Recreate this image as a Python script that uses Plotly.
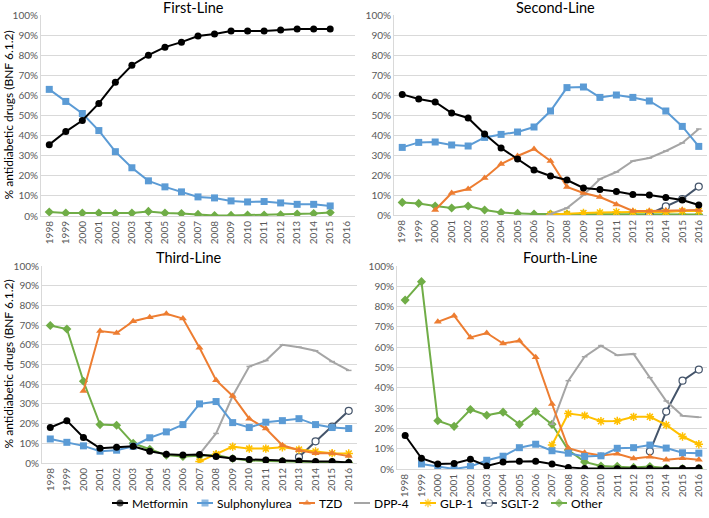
import plotly.graph_objects as go

years = [str(y) for y in range(1998, 2017)]
N = None

# First-Line (1998-2015 data; 2016 empty)
fl_metformin = [35.5, 42, 47.5, 56, 66.5, 75, 80, 84, 86.5, 89.5, 90.5, 92, 92, 92, 92.5, 93, 93, 93, N]
fl_sulph = [63, 57, 51, 42.5, 32, 24, 17.5, 14.5, 12, 9.5, 9, 7.5, 7, 7.2, 6.5, 5.8, 5.8, 5, N]
fl_other = [2, 1.5, 1.5, 1.5, 1.2, 1.5, 2.3, 1.5, 1.2, 0.8, 0.2, 0.3, 0.5, 0.5, 0.6, 1.0, 1.2, 1.7, N]

# Second-Line
sl_metformin = [60.3, 58, 56.5, 51, 48.5, 40.5, 33.5, 28, 22.5, 19.5, 17.5, 13.5, 12.8, 11.7, 10.3, 10, 8.7, 7.5, 5]
sl_sulph = [33.8, 36.3, 36.5, 35, 34.5, 38.8, 40.3, 41.5, 44, 52, 63.7, 64, 58.8, 60, 58.8, 57, 52, 44.3, 34.3]
sl_tzd = [N, N, 2.5, 11, 13, 18.5, 25.5, 29.5, 33, 27, 14, 11, 9, 5.3, 2, 2, 2.2, 2.5, 2.5]
sl_dpp4 = [N, N, N, N, N, N, N, N, N, 0.5, 3.5, 10, 18, 21.5, 27, 28.5, 32, 36, 43]
sl_glp1 = [N, N, N, N, N, N, N, N, N, 0.3, 0.5, 1, 1.3, 1.5, 1.5, 1.5, 1.5, 2, 2]
sl_sglt2 = [N, N, N, N, N, N, N, N, N, N, N, N, N, N, N, 0.5, 4.3, 8, 14.2]
sl_other = [6.3, 5.8, 4.5, 3.5, 4.5, 2.5, 1.2, 0.8, 0.5, 0.5, 0.5, 0.5, 0.3, 0.3, 0.3, 0.3, 0.3, 0.3, 0.3]

# Third-Line
tl_metformin = [18, 21.5, 13, 7.5, 8, 8.5, 6, 4.5, 4, 4.3, 3.3, 2.3, 1.8, 1.5, 1, 1, 0.8, 0.8, 0.3]
tl_sulph = [12.2, 10.5, 8.7, 6, 6.5, 8.5, 12.8, 15.8, 19.5, 30, 31.2, 20.5, 18, 20.7, 21.5, 22.5, 19.5, 18, 17.5]
tl_tzd = [N, N, 36.5, 67, 66, 72, 74, 75.8, 73.3, 58.5, 42, 34, 22.5, 17.5, 9, 6.5, 5, 5, 3.5]
tl_dpp4 = [N, N, N, N, N, N, N, N, N, 4.5, 15, 34, 49, 52, 60, 58.8, 57, 51.5, 47]
tl_glp1 = [N, N, N, N, N, N, N, N, N, 0.7, 4.5, 8.3, 7.3, 7.3, 8, 6.8, 5.8, 5, 4.8]
tl_sglt2 = [N, N, N, N, N, N, N, N, N, N, N, N, N, N, N, 3, 11, 18.5, 26.5]
tl_other = [69.8, 68, 41.5, 19.5, 19.2, 10, 7, 4, 3.3, 3.5, 4, 2.3, 1.3, 1, 0.8, 0.5, 0.3, 0.3, 0.2]

# Fourth-Line
ql_metformin = [16.5, 5.3, 2.5, 2.7, 4.8, 1.5, 3.5, 3.8, 3.8, 2.5, 0.8, 0.3, 0.2, 0.1, 0.2, 0.2, 0.2, 0.2, 0.5]
ql_sulph = [N, 2.5, 1.2, 0, 1.2, 4.3, 6.3, 10.5, 12.2, 9, 7.8, 6.2, 6.5, 10.2, 10.5, 11.8, 10.3, 8, 7.8]
ql_tzd = [N, N, 72.5, 75.5, 64.8, 67, 61.8, 63.2, 55, 32, 10.3, 8, 6.7, 7.5, 5.2, 6, 4.5, 5.3, 4.5]
ql_dpp4 = [N, N, N, N, N, N, N, N, N, 22, 43.5, 55.3, 60.8, 56, 56.7, 45, 33.5, 26.2, 25.5]
ql_glp1 = [N, N, N, N, N, N, N, N, N, 11.8, 27.3, 26.3, 23.5, 23.7, 25.7, 25.7, 21.7, 16, 12.2]
ql_sglt2 = [N, N, N, N, N, N, N, N, N, N, N, N, N, N, N, 8.7, 28.3, 43.5, 49]
ql_other = [83.2, 92.3, 23.8, 21, 29.3, 26.5, 28, 22, 28.3, 22, 9.3, 3.5, 1.5, 1.3, 0.8, 1.2, 0.5, 0.2, 0.3]

panel_titles = ["First-Line", "Second-Line", "Third-Line", "Fourth-Line"]
y_title = "% antidiabetic drugs (BNF 6.1.2)"
series_names = ["Metformin", "Sulphonylurea", "TZD", "DPP-4", "GLP-1", "SGLT-2", "Other"]

styles = {
    "Metformin": dict(color="#000000", symbol="circle", size=7),
    "Sulphonylurea": dict(color="#5B9BD5", symbol="square", size=7),
    "TZD": dict(color="#ED7D31", symbol="triangle-up", size=7),
    "DPP-4": dict(color="#A5A5A5", symbol="line-ew-open", size=4),
    "GLP-1": dict(color="#FFC000", symbol="asterisk-open", size=7),
    "SGLT-2": dict(color="#44546A", symbol="circle", size=7),
    "Other": dict(color="#70AD47", symbol="diamond", size=7),
}

panels = [
    {"Metformin": fl_metformin, "Sulphonylurea": fl_sulph, "Other": fl_other},
    {"Metformin": sl_metformin, "Sulphonylurea": sl_sulph, "TZD": sl_tzd, "DPP-4": sl_dpp4,
     "GLP-1": sl_glp1, "SGLT-2": sl_sglt2, "Other": sl_other},
    {"Metformin": tl_metformin, "Sulphonylurea": tl_sulph, "TZD": tl_tzd, "DPP-4": tl_dpp4,
     "GLP-1": tl_glp1, "SGLT-2": tl_sglt2, "Other": tl_other},
    {"Metformin": ql_metformin, "Sulphonylurea": ql_sulph, "TZD": ql_tzd, "DPP-4": ql_dpp4,
     "GLP-1": ql_glp1, "SGLT-2": ql_sglt2, "Other": ql_other},
]

W, H = 709, 518
# pixel boxes: (left, right, top, bottom)
boxes = [(41, 355, 15, 216), (394, 707, 15, 215), (42, 357, 266, 463), (397, 707, 266, 469)]
title_pos = [(193, 8), (555, 8), (189, 257), (560, 257)]
# legend key left edges (px) and vertical centre
legend_keys_x = [112, 197, 299, 354, 420, 481, 551]
legend_y = 503


def marker_for(name):
    st = styles[name]
    s = st["size"]
    if name == "SGLT-2":
        return dict(symbol="circle", size=s, color="white", line=dict(color=st["color"], width=1.2))
    if "open" in st["symbol"]:
        return dict(symbol=st["symbol"], size=s, color=st["color"],
                    line=dict(color=st["color"], width=1.5))
    return dict(symbol=st["symbol"], size=s, color=st["color"], line=dict(width=0))


fig = go.Figure()
for i, pdata in enumerate(panels):
    ax = "" if i == 0 else str(i + 1)
    for name in reversed(series_names):
        if name not in pdata:
            continue
        st = styles[name]
        fig.add_trace(go.Scatter(
            x=years, y=pdata[name], name=name, mode="lines+markers",
            line=dict(color=st["color"], width=2),
            marker=marker_for(name), showlegend=False,
            xaxis="x" + ax, yaxis="y" + ax,
        ))

# legend keys on a helper pixel axis
for name, kx in zip(series_names, legend_keys_x):
    st = styles[name]
    mk = marker_for(name)
    fig.add_trace(go.Scatter(
        x=[kx, kx + 8, kx + 16], y=[H - legend_y] * 3, mode="lines+markers",
        line=dict(color=st["color"], width=2),
        marker=dict(mk, size=[0, mk["size"], 0]),
        showlegend=False, hoverinfo="skip", xaxis="x5", yaxis="y5",
    ))

font_family = "Lato, 'Open Sans', sans-serif"
layout = dict(
    width=W, height=H, margin=dict(l=0, r=0, t=0, b=0, autoexpand=False),
    paper_bgcolor="white", plot_bgcolor="rgba(0,0,0,0)",
    font=dict(family=font_family, color="#595959", size=10),
    showlegend=False,
    xaxis5=dict(domain=[0, 1], range=[0, W], visible=False, anchor="y5", fixedrange=True),
    yaxis5=dict(domain=[0, 1], range=[0, H], visible=False, anchor="x5", fixedrange=True),
)
annotations = []
for i, (l, r, t, b) in enumerate(boxes):
    ax = "" if i == 0 else str(i + 1)
    layout["xaxis" + ax] = dict(
        domain=[l / W, r / W], anchor="y" + ax, type="category",
        categoryorder="array", categoryarray=years, range=[-0.5, 18.5],
        tickangle=-90, showgrid=False, showline=True, linecolor="#D9D9D9", linewidth=1,
        ticks="", tickfont=dict(size=10, color="#595959"), fixedrange=True, automargin=False,
    )
    layout["yaxis" + ax] = dict(
        domain=[1 - b / H, 1 - t / H], anchor="x" + ax, range=[0, 100], dtick=10,
        ticksuffix="%", showgrid=True, gridcolor="#D9D9D9", gridwidth=1,
        showline=True, linecolor="#D9D9D9", zeroline=False, ticks="",
        tickfont=dict(size=10, color="#595959"), fixedrange=True, automargin=False,
    )
    tx, ty = title_pos[i]
    annotations.append(dict(
        text=panel_titles[i], x=tx / W, y=1 - ty / H,
        xref="paper", yref="paper", showarrow=False, xanchor="center", yanchor="middle",
        font=dict(size=14.5, color="#000000", family=font_family),
    ))
    if i in (0, 2):
        annotations.append(dict(
            text=y_title, x=8 / W, y=1 - ((t + b) / 2) / H, xref="paper", yref="paper",
            showarrow=False, textangle=-90, xanchor="center", yanchor="middle",
            font=dict(size=12, color="#000000", family=font_family),
        ))
for name, kx in zip(series_names, legend_keys_x):
    annotations.append(dict(
        text=name, x=(kx + 18) / W, y=1 - legend_y / H, xref="paper", yref="paper",
        showarrow=False, xanchor="left", yanchor="middle",
        font=dict(size=12, color="#000000", family=font_family),
    ))
layout["annotations"] = annotations
fig.update_layout(**layout)
fig.write_html("out.html", config={"displayModeBar": False},
               post_script="document.body.style.margin='0';document.body.style.overflow='hidden';")
